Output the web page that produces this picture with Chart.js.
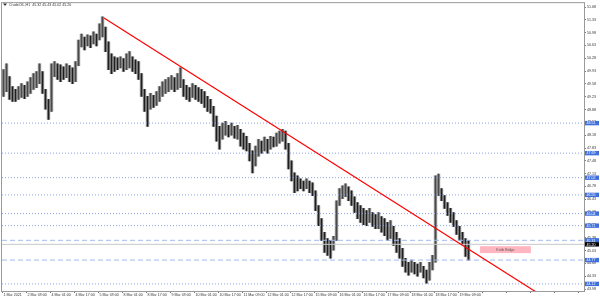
<!DOCTYPE html>
<html><head><meta charset="utf-8">
<script src="https://cdn.jsdelivr.net/npm/chart.js@4.4.1/dist/chart.umd.min.js"></script>
<style>html,body{margin:0;padding:0;background:#fff;overflow:hidden}</style>
</head><body>
<canvas id="c" width="600" height="299"></canvas>
<script>
// ---------------- data ----------------
const symbolTitle = 'CrudeOIL,H1  45.32 45.43 45.02 45.20';
const slotCount = 194; // two-hour slots on the time axis
const xTickLabels = ['1 Mar 2021','2 Mar 09:00','4 Mar 01:00','4 Mar 17:00','5 Mar 09:00','8 Mar 01:00','8 Mar 17:00','9 Mar 09:00','10 Mar 01:00','10 Mar 17:00','11 Mar 09:00','12 Mar 01:00','12 Mar 17:00','15 Mar 09:00','16 Mar 01:00','16 Mar 17:00','17 Mar 09:00','18 Mar 01:00','18 Mar 17:00','19 Mar 09:00'];
const highs = [49.97,50.13,49.78,49.51,49.43,49.51,49.59,49.54,49.64,49.75,49.86,49.92,50.13,49.92,49.43,49.16,50.13,50.19,50.13,50.10,
50.05,50.13,50.08,50.02,50.19,50.78,50.94,50.86,50.92,50.89,51.00,50.94,51.22,51.41,51.13,50.73,50.40,50.32,50.29,50.32,
50.27,50.40,50.46,50.32,50.24,50.19,49.86,49.43,49.24,49.32,49.27,49.37,49.51,49.64,49.70,49.75,49.81,49.75,49.86,50.02,
49.70,49.54,49.48,49.59,49.54,49.48,49.43,49.37,49.24,49.16,48.97,48.70,48.42,48.51,48.56,48.45,48.51,48.42,48.45,48.34,
48.24,48.15,47.96,47.75,47.88,48.07,48.02,48.13,48.07,48.15,48.13,48.24,48.29,48.34,48.29,47.96,47.48,47.15,47.07,46.99,
46.93,46.99,46.93,46.88,46.66,46.26,45.90,45.53,45.36,45.31,45.42,46.39,46.72,46.80,46.85,46.77,46.66,46.50,46.34,46.26,
46.18,46.12,46.18,46.07,46.01,46.07,45.96,45.90,45.80,45.85,45.69,45.53,45.36,45.09,44.82,44.71,44.77,44.71,44.66,44.71,
44.60,44.50,44.71,44.90,47.07,47.12,46.72,46.53,46.34,46.18,46.07,45.85,45.69,45.53,45.36,45.31];
const lows = [49.24,49.37,49.16,49.10,49.10,49.16,49.21,49.18,49.24,49.32,49.43,49.48,49.59,49.32,48.89,48.61,48.83,49.78,49.70,49.64,
49.70,49.75,49.64,49.59,49.64,50.08,50.59,50.51,50.62,50.57,50.67,50.62,50.78,50.86,50.46,49.97,49.86,49.92,49.97,50.02,
49.92,49.97,50.02,49.92,49.86,49.70,49.24,48.83,48.42,48.89,48.94,48.99,49.10,49.24,49.32,49.37,49.43,49.37,49.43,49.48,
49.24,49.16,49.10,49.21,49.16,49.10,49.05,48.94,48.83,48.78,48.42,48.02,47.80,48.07,48.18,48.13,48.18,48.10,48.07,47.88,
47.80,47.75,47.48,47.15,47.34,47.61,47.69,47.75,47.69,47.80,47.86,47.88,47.96,48.02,47.80,47.26,46.93,46.61,46.66,46.72,
46.66,46.72,46.61,46.53,46.12,45.71,45.31,44.98,44.90,44.82,45.04,45.31,46.26,46.45,46.50,46.39,46.26,46.07,45.90,45.80,
45.74,45.71,45.80,45.69,45.63,45.63,45.53,45.44,45.31,45.36,45.17,44.98,44.82,44.60,44.44,44.36,44.44,44.39,44.33,44.44,
44.28,44.14,44.22,44.50,44.71,46.53,46.39,46.18,45.99,45.80,45.69,45.47,45.31,45.20,44.87,44.77];
const yTickValues = [43.98,44.33,44.68,45.03,45.38,45.73,46.08,46.43,46.78,47.13,47.48,47.83,48.18,48.53,48.88,49.23,49.58,49.93,50.28,50.63,50.98,51.33,51.68];
const dottedLevels = [48.51,47.69,47.02,46.55,46.04,45.71,44.12];
const dashedLevels = [45.31,44.77];
const currentPrice = 45.20;
const trendLine = [{x:33.5,y:51.38},{x:193.5,y:43.07}];
const zoneBox = {from:158.8, to:175.8, top:45.15, bottom:44.96, label:'Kritik Bölge'};
const yMin = 43.926, yMax = 51.785;

// ---------------- chart ----------------
const categories = Array.from({length:slotCount}, (_, i) => (i % 8 === 0 && xTickLabels[i/8]) ? xTickLabels[i/8] : '');
const FONT = 'Liberation Sans';
Chart.defaults.font.family = FONT;
Chart.defaults.color = '#333';

const ranges = highs.map((h,i) => [lows[i], h]);
const falling = i => i > 0 && highs[i] < highs[i-1];

const hLine = (v, color, dash) => ({
  type:'line', xAxisID:'xl', yAxisID:'y',
  data:[{x:-0.5,y:v},{x:slotCount-0.5,y:v}],
  borderColor:color, borderWidth:1, borderDash:dash, pointRadius:0, order:5, clip:0
});

const overlay = {
  id:'overlay',
  afterDatasetsDraw(chart){
    const {ctx, scales:{xl, y}} = chart;
    ctx.save();
    const x1 = xl.getPixelForValue(zoneBox.from), x2 = xl.getPixelForValue(zoneBox.to);
    const y1 = y.getPixelForValue(zoneBox.top), y2 = y.getPixelForValue(zoneBox.bottom);
    ctx.fillStyle = '#ffb6c1';
    ctx.fillRect(x1, y1, x2-x1, y2-y1);
    ctx.fillStyle = '#555';
    ctx.font = '3.6px ' + FONT;
    ctx.textAlign = 'center'; ctx.textBaseline = 'middle';
    ctx.fillText(zoneBox.label, (x1+x2)/2, (y1+y2)/2);
    ctx.restore();
  },
  afterDraw(chart){
    const {ctx, chartArea:a, scales:{y}} = chart;
    ctx.save();
    ctx.strokeStyle = '#9a9a9a'; ctx.lineWidth = 1;
    ctx.strokeRect(a.left-0.5, a.top-0.5, a.right-a.left+1, a.bottom-a.top+1);
    ctx.fillStyle = '#333';
    ctx.beginPath(); ctx.moveTo(3,3.5); ctx.lineTo(7,3.5); ctx.lineTo(5,6); ctx.closePath(); ctx.fill();
    ctx.font = '3.6px ' + FONT; ctx.textAlign = 'left'; ctx.textBaseline = 'middle';
    ctx.fillText(symbolTitle, 9, 5);
    const tag = (v, bg) => {
      const py = y.getPixelForValue(v);
      ctx.fillStyle = bg; ctx.fillRect(a.right+1, py-2.2, 14, 4.4);
      ctx.fillStyle = '#fff'; ctx.fillText(v.toFixed(2), a.right+2.5, py+0.2);
    };
    dottedLevels.concat(dashedLevels).forEach(v => tag(v, '#3f6fdc'));
    tag(currentPrice, '#000');
    ctx.restore();
  }
};

new Chart(document.getElementById('c'), {
  type:'bar',
  data:{
    labels: categories,
    datasets:[
      {type:'line', xAxisID:'xl', yAxisID:'y', data:trendLine, borderColor:'#ff0000', borderWidth:1.2, pointRadius:0, order:0, clip:0},
      ...dottedLevels.map(v => hLine(v, '#8aa2e6', [1,2])),
      ...dashedLevels.map(v => hLine(v, '#a3b8ee', [5,3])),
      hLine(currentPrice, '#c8c8c8', []),
      {type:'bar', xAxisID:'x', yAxisID:'y', data: ranges,
       backgroundColor: c => falling(c.dataIndex) ? '#1e1e1e' : '#4a4a4a',
       barThickness:1, grouped:false, order:8},
      {type:'bar', xAxisID:'x', yAxisID:'y', data: ranges,
       backgroundColor:'#a2a2a2', barThickness:2.8, grouped:false, order:10}
    ]
  },
  options:{
    responsive:false, animation:false, devicePixelRatio:1,
    layout:{padding:{left:2, top:1, right:0, bottom:0}},
    plugins:{legend:{display:false}, tooltip:{enabled:false}, title:{display:false}},
    scales:{
      x:{type:'category', offset:true,
         grid:{drawOnChartArea:false, drawTicks:true, tickLength:2, color: c => (c.index % 8 === 0 ? '#777' : 'rgba(0,0,0,0)')},
         border:{display:false},
         ticks:{autoSkip:false, maxRotation:0, minRotation:0, align:'start', padding:0, font:{size:3.6}, color:'#333',
                callback:(v,i) => categories[i]},
         afterFit: s => { s.height = 8; }},
      xl:{type:'linear', display:false, offset:false, grid:{offset:false}, bounds:'data', min:-0.5, max:slotCount-0.5},
      y:{type:'linear', position:'right', min:yMin, max:yMax,
         grid:{drawOnChartArea:false, drawTicks:true, tickLength:2, color:'#777'},
         border:{display:false},
         afterBuildTicks: s => { s.ticks = yTickValues.map(v => ({value:v})); },
         ticks:{padding:1, font:{size:3.6}, color:'#333', callback: v => Number(v).toFixed(2)},
         afterFit: s => { s.width = 16; }}
    }
  },
  plugins:[overlay]
});
</script>
</body></html>
